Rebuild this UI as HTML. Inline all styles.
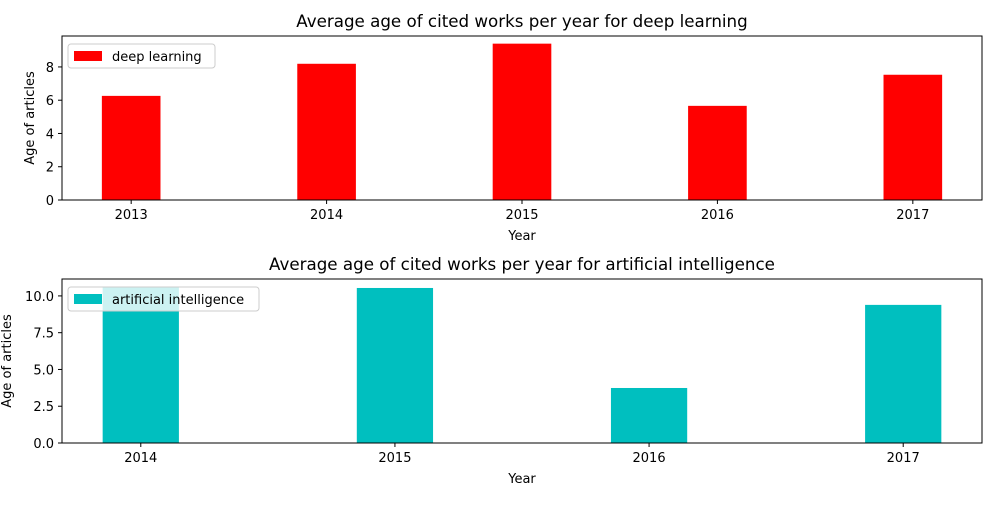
<!DOCTYPE html>
<html><head><meta charset="utf-8"><style>
body{margin:0;background:#fff;}
svg text{font-family:"DejaVu Sans","Liberation Sans",sans-serif;fill:#000;}
</style></head><body>
<svg id="chart" width="1000" height="500" xmlns="http://www.w3.org/2000/svg"></svg>
<script>
const dlYears=["2013","2014","2015","2016","2017"];
const dlValues=[6.26,8.19,9.4,5.66,7.53];
const dlTicks=[0,2,4,6,8];
const aiYears=["2014","2015","2016","2017"];
const aiValues=[10.6,10.54,3.74,9.39];
const aiTicks=["0.0","2.5","5.0","7.5","10.0"];

const NS="http://www.w3.org/2000/svg";
const svg=document.getElementById('chart');
function mk(tag,attrs,parent){const e=document.createElementNS(NS,tag);for(const k in attrs)e.setAttribute(k,attrs[k]);(parent||svg).appendChild(e);return e;}

function panel(opt){
  const g=mk('g',{});
  
  
  const L=62,R=982,T=opt.top,B=opt.top+164;
  const n=opt.cats.length,pad=opt.pad;
  const xs=i=>L+(i+pad)/(n-1+2*pad)*(R-L);
  const unit=(R-L)/(n-1+2*pad);
  const ys=v=>B-v/opt.ymax*(B-T);
  opt.vals.forEach((v,i)=>{
    const r=mk('rect',{x:xs(i)-0.15*unit,y:ys(v),width:0.3*unit,height:B-ys(v),fill:opt.color},g);
    
    
  });
  const ax=mk('rect',{x:L,y:T,width:R-L,height:B-T,fill:'none',stroke:'#000','stroke-width':1},g);
  
  
  opt.cats.forEach((c,i)=>{
    mk('line',{x1:xs(i),x2:xs(i),y1:B,y2:B+4,stroke:'#000'},g);
    const t=mk('text',{x:xs(i),y:B+19,'text-anchor':'middle','font-size':13},g);t.textContent=c;
    
    
  });
  opt.ticks.forEach(tk=>{
    const y=ys(parseFloat(tk));
    mk('line',{x1:L-4,x2:L,y1:y,y2:y,stroke:'#000'},g);
    const t=mk('text',{x:L-8,y:y+5,'text-anchor':'end','font-size':13},g);t.textContent=tk;
    
    
  });
  const ti=mk('text',{x:(L+R)/2,y:T-9,'text-anchor':'middle','font-size':16.7},g);ti.textContent=opt.title;
  
  
  const xl=mk('text',{x:(L+R)/2,y:B+40,'text-anchor':'middle','font-size':13},g);xl.textContent='Year';
  
  
  const yl=mk('text',{x:0,y:0,'text-anchor':'middle','font-size':13,transform:`translate(${opt.ylx},${(T+B)/2}) rotate(-90)`},g);yl.textContent='Age of articles';
  
  
  const lg=mk('g',{},g);
  
  
  mk('rect',{x:68,y:T+8,width:opt.legW,height:24,rx:3,fill:'#fff','fill-opacity':0.8,stroke:'#ccc'},lg);
  mk('rect',{x:74,y:T+15,width:28,height:10,fill:opt.color},lg);
  const lt=mk('text',{x:112,y:T+25,'font-size':13},lg);lt.textContent=opt.label;
  
  
}
panel({name:'deep-learning-panel',top:36,cats:dlYears,vals:dlValues,ticks:dlTicks.map(String),ymax:9.86,pad:0.354,color:'#ff0000',title:'Average age of cited works per year for deep learning',label:'deep learning',legW:147,ylx:34});
panel({name:'ai-panel',top:279,cats:aiYears,vals:aiValues,ticks:aiTicks,ymax:11.15,pad:0.31,color:'#00bfbf',title:'Average age of cited works per year for artificial intelligence',label:'artificial intelligence',legW:191,ylx:11});
</script>
</body></html>
